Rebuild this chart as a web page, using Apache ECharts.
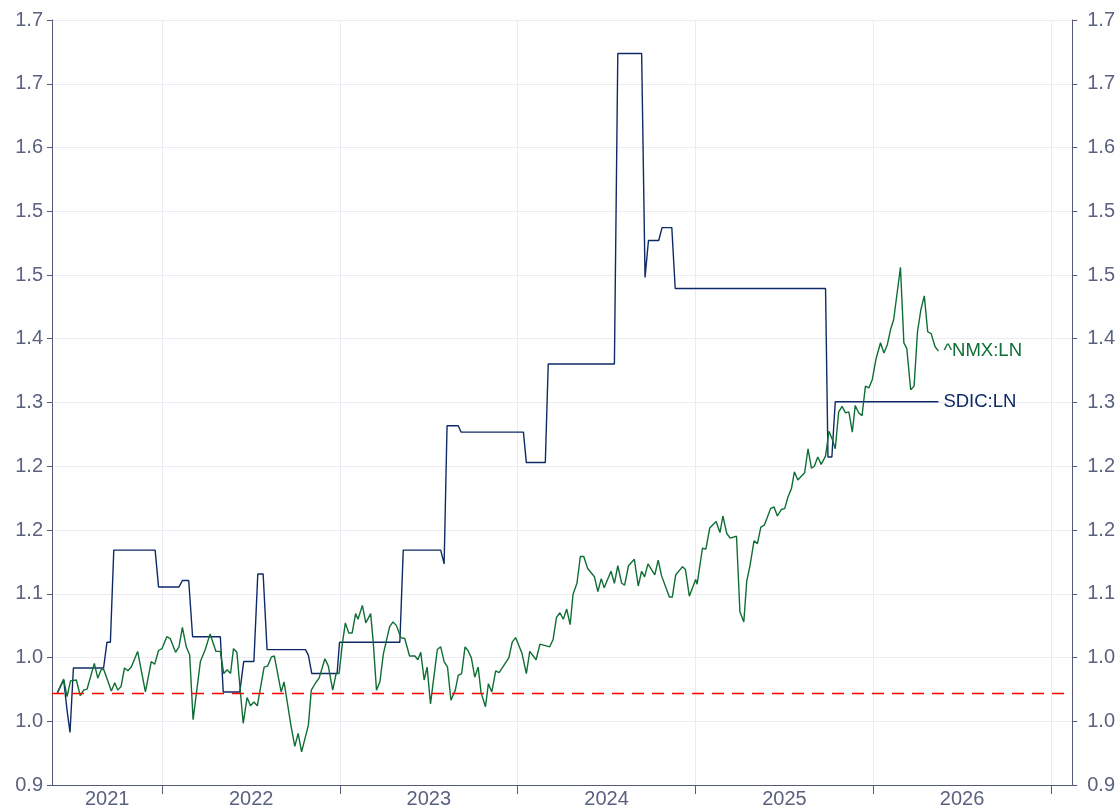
<!DOCTYPE html>
<html>
<head>
<meta charset="utf-8">
<script src="https://cdn.jsdelivr.net/npm/echarts@6/dist/echarts.min.js"></script>
<style>
  html, body { margin: 0; padding: 0; background: #fff; }
  #chart { width: 1118px; height: 810px; }
</style>
</head>
<body>
<div id="chart"></div>
<script>
// ^NMX:LN weekly relative performance
var nmxDates = [
  '2021-05-30','2021-06-12','2021-06-19','2021-06-26','2021-07-08','2021-07-16','2021-07-23','2021-07-30',
  '2021-08-14','2021-08-21','2021-08-28','2021-09-02','2021-09-18','2021-09-25','2021-10-01','2021-10-08',
  '2021-10-15','2021-10-22','2021-10-29','2021-11-11','2021-11-27','2021-12-09','2021-12-16','2021-12-24',
  '2021-12-31','2022-01-10','2022-01-17','2022-01-28','2022-02-04','2022-02-11','2022-02-19','2022-02-26',
  '2022-03-05','2022-03-20','2022-03-30','2022-04-09','2022-04-21','2022-04-30','2022-05-07','2022-05-14',
  '2022-05-21','2022-05-27','2022-06-03','2022-06-16','2022-06-24','2022-07-01','2022-07-08','2022-07-15',
  '2022-07-29','2022-08-05','2022-08-13','2022-08-19','2022-09-02','2022-09-08','2022-09-22','2022-09-30',
  '2022-10-07','2022-10-14','2022-10-28','2022-11-03','2022-11-12','2022-11-19','2022-12-01','2022-12-08',
  '2022-12-17','2022-12-24','2022-12-30','2023-01-06','2023-01-12','2023-01-19','2023-01-26','2023-02-02',
  '2023-02-07','2023-02-16','2023-02-23','2023-03-05','2023-03-10','2023-03-17','2023-03-24','2023-03-31',
  '2023-04-13','2023-04-20','2023-04-27','2023-05-06','2023-05-14','2023-05-24','2023-06-04','2023-06-10',
  '2023-06-16','2023-06-23','2023-06-29','2023-07-06','2023-07-20','2023-07-27','2023-08-03','2023-08-10',
  '2023-08-17','2023-08-26','2023-09-01','2023-09-08','2023-09-15','2023-09-21','2023-09-28','2023-10-05',
  '2023-10-12','2023-10-18','2023-10-27','2023-11-02','2023-11-09','2023-11-17','2023-11-24','2023-12-14',
  '2023-12-21','2023-12-28','2024-01-10','2024-01-19','2024-01-26','2024-02-08','2024-02-16','2024-03-07',
  '2024-03-14','2024-03-21','2024-03-28','2024-04-04','2024-04-11','2024-04-18','2024-04-24','2024-05-02',
  '2024-05-09','2024-05-16','2024-05-24','2024-06-07','2024-06-14','2024-06-21','2024-06-27','2024-07-11',
  '2024-07-18','2024-07-25','2024-08-02','2024-08-08','2024-08-16','2024-08-28','2024-09-05','2024-09-12',
  '2024-09-18','2024-09-25','2024-10-09','2024-10-16','2024-10-23','2024-11-08','2024-11-14','2024-11-21',
  '2024-12-05','2024-12-11','2024-12-19','2025-01-01','2025-01-04','2025-01-08','2025-01-15','2025-01-22',
  '2025-01-30','2025-02-12','2025-02-20','2025-02-26','2025-03-06','2025-03-13','2025-03-26','2025-04-02',
  '2025-04-10','2025-04-16','2025-04-23','2025-05-01','2025-05-08','2025-05-15','2025-05-22','2025-05-28',
  '2025-06-04','2025-06-11','2025-06-18','2025-06-26','2025-07-03','2025-07-10','2025-07-17','2025-07-23',
  '2025-07-30','2025-08-13','2025-08-20','2025-08-27','2025-09-02','2025-09-09','2025-09-16','2025-09-25',
  '2025-10-02','2025-10-09','2025-10-15','2025-10-22','2025-10-29','2025-11-05','2025-11-12','2025-11-19',
  '2025-11-25','2025-12-02','2025-12-09','2025-12-16','2025-12-23','2025-12-30','2026-01-07','2026-01-16',
  '2026-01-23','2026-01-30','2026-02-06','2026-02-12','2026-02-26','2026-03-05','2026-03-11','2026-03-19',
  '2026-03-26','2026-04-02','2026-04-09','2026-04-16','2026-04-23','2026-04-30','2026-05-08','2026-05-15'
];
var nmxValues = [
  1.000,1.015,0.996,1.013,1.014,0.997,1.003,1.004,
  1.032,1.016,1.025,1.026,1.002,1.011,1.003,1.007,
  1.027,1.024,1.028,1.045,1.001,1.034,1.031,1.046,
  1.048,1.061,1.059,1.044,1.050,1.071,1.050,1.041,
  0.971,1.034,1.047,1.064,1.045,1.045,1.021,1.025,
  1.021,1.048,1.044,0.967,0.995,0.986,0.990,0.986,
  1.028,1.029,1.039,1.040,1.001,1.012,0.965,0.942,
  0.956,0.936,0.965,1.003,1.011,1.016,1.037,1.029,
  1.003,1.021,1.021,1.054,1.076,1.065,1.065,1.086,
  1.080,1.095,1.076,1.086,1.057,1.003,1.012,1.042,
  1.072,1.077,1.073,1.060,1.059,1.040,1.040,1.036,
  1.044,1.014,1.028,0.988,1.047,1.050,1.034,1.028,
  0.992,1.003,1.019,1.021,1.050,1.046,1.038,1.017,
  1.028,1.000,0.985,1.010,1.001,1.024,1.022,1.038,
  1.055,1.060,1.043,1.021,1.045,1.036,1.053,1.050,
  1.058,1.082,1.087,1.080,1.091,1.074,1.107,1.119,
  1.148,1.148,1.135,1.126,1.110,1.124,1.114,1.132,
  1.119,1.138,1.119,1.117,1.138,1.145,1.116,1.132,
  1.126,1.140,1.128,1.144,1.127,1.104,1.104,1.128,
  1.137,1.134,1.105,1.123,1.118,1.120,1.157,1.156,
  1.179,1.186,1.174,1.192,1.173,1.168,1.170,1.088,
  1.077,1.121,1.139,1.165,1.162,1.180,1.182,1.190,
  1.200,1.202,1.192,1.199,1.200,1.213,1.222,1.240,
  1.231,1.239,1.265,1.244,1.246,1.256,1.248,1.257,
  1.284,1.275,1.265,1.305,1.311,1.304,1.305,1.283,
  1.312,1.304,1.301,1.333,1.331,1.340,1.363,1.380,
  1.369,1.378,1.395,1.405,1.462,1.380,1.374,1.329,
  1.333,1.392,1.416,1.431,1.392,1.390,1.376,1.371
];

// SDIC:LN (step-like)
var sdicDates = [
  '2021-05-30','2021-06-12','2021-06-19','2021-06-25','2021-07-02','2021-09-02','2021-09-09','2021-09-16',
  '2021-09-23','2021-12-17','2021-12-24','2022-02-04','2022-02-11','2022-02-24','2022-03-04','2022-04-30',
  '2022-05-06','2022-06-09','2022-06-17','2022-07-08','2022-07-16','2022-07-27','2022-08-04','2022-10-22',
  '2022-10-28','2022-11-04','2022-12-26','2022-12-31','2023-05-04','2023-05-11','2023-07-27','2023-08-03',
  '2023-08-09','2023-09-01','2023-09-07','2024-01-13','2024-01-19','2024-02-27','2024-03-04','2024-07-18',
  '2024-07-25','2024-09-12','2024-09-19','2024-09-26','2024-10-17','2024-10-24','2024-11-13','2024-11-20',
  '2025-09-25','2025-09-30','2025-10-08','2025-10-15','2026-05-15'
];
var sdicValues = [
  1.000,1.014,0.981,0.957,1.027,1.027,1.055,1.055,
  1.155,1.155,1.115,1.115,1.122,1.122,1.061,1.061,
  1.001,1.001,1.034,1.034,1.129,1.129,1.047,1.047,
  1.041,1.021,1.021,1.055,1.055,1.155,1.155,1.140,
  1.290,1.290,1.283,1.283,1.250,1.250,1.357,1.357,
  1.694,1.694,1.451,1.491,1.491,1.505,1.505,1.439,
  1.439,1.256,1.256,1.316,1.316
];

var yearStarts = ['2022-01-01','2023-01-01','2024-01-01','2025-01-01','2026-01-01','2027-01-01'];
var labelYears = [2021, 2022, 2023, 2024, 2025, 2026];
var axisStart = '2021-05-19';
var axisEnd = '2027-02-14';
var baseline = 1.0;

function ts(s) {
  var p = s.split('-');
  return new Date(+p[0], +p[1] - 1, +p[2]).getTime();
}

function pairs(dates, values) {
  return dates.map(function (d, i) { return [ts(d), values[i]]; });
}

var xMin = ts(axisStart);
var xMax = ts(axisEnd);
// year labels sit in the middle of the visible part of each year
var labelPos = labelYears.map(function (y) {
  var a = Math.max(xMin, ts(y + '-01-01'));
  var b = Math.min(xMax, ts((y + 1) + '-01-01'));
  return (a + b) / 2;
});

var axisColor = '#525a78';
var textColor = '#5a6280';
var gridColor = '#ebecf3';
var font = '"Liberation Sans", Arial, sans-serif';

var yAxisBase = {
  type: 'value',
  min: 0.9,
  max: 1.7304,
  interval: 0.0692,
  axisLine: { show: true, lineStyle: { color: axisColor, width: 1 } },
  axisTick: { show: true, length: 5, lineStyle: { color: axisColor } },
  axisLabel: {
    color: textColor,
    fontSize: 20,
    fontFamily: font,
    formatter: function (v) { return v.toFixed(1); }
  }
};

var chart = echarts.init(document.getElementById('chart'));
chart.setOption({
  animation: false,
  backgroundColor: '#ffffff',
  grid: { left: 52, right: 45, top: 20, bottom: 25, containLabel: false },
  xAxis: {
    type: 'value',
    min: xMin,
    max: xMax,
    axisLine: { show: true, lineStyle: { color: axisColor, width: 1 } },
    axisTick: {
      show: true,
      length: 9,
      lineStyle: { color: axisColor },
      customValues: yearStarts.map(ts)
    },
    splitLine: { show: true, lineStyle: { color: gridColor, width: 1 } },
    axisLabel: {
      color: textColor,
      fontSize: 20,
      fontFamily: font,
      margin: 4,
      customValues: labelPos,
      formatter: function (v) { return String(new Date(v).getFullYear()); }
    }
  },
  yAxis: [
    Object.assign({}, yAxisBase, {
      position: 'left',
      splitLine: { show: true, lineStyle: { color: gridColor, width: 1 } },
      axisLabel: Object.assign({}, yAxisBase.axisLabel, { margin: 9 })
    }),
    Object.assign({}, yAxisBase, {
      position: 'right',
      splitLine: { show: false },
      axisLabel: Object.assign({}, yAxisBase.axisLabel, { margin: 15 })
    })
  ],
  series: [
    {
      name: 'SDIC:LN',
      type: 'line',
      yAxisIndex: 0,
      data: pairs(sdicDates, sdicValues),
      showSymbol: false,
      symbol: 'none',
      lineStyle: { color: '#0e2a66', width: 1.4 },
      itemStyle: { color: '#0e2a66' },
      endLabel: {
        show: true,
        formatter: '{a}',
        color: '#0e2a66',
        fontSize: 18.5,
        fontFamily: font,
        distance: 5
      },
      markLine: {
        silent: true,
        symbol: 'none',
        label: { show: false },
        lineStyle: { color: '#ff0000', type: [12, 8], width: 1.3 },
        data: [{ yAxis: baseline }]
      },
      z: 3
    },
    {
      name: '^NMX:LN',
      type: 'line',
      yAxisIndex: 0,
      data: pairs(nmxDates, nmxValues),
      showSymbol: false,
      symbol: 'none',
      lineStyle: { color: '#0f6e34', width: 1.4 },
      itemStyle: { color: '#0f6e34' },
      endLabel: {
        show: true,
        formatter: '{a}',
        color: '#0f6e34',
        fontSize: 18.5,
        fontFamily: font,
        distance: 5
      },
      z: 4
    }
  ]
});
</script>
</body>
</html>
